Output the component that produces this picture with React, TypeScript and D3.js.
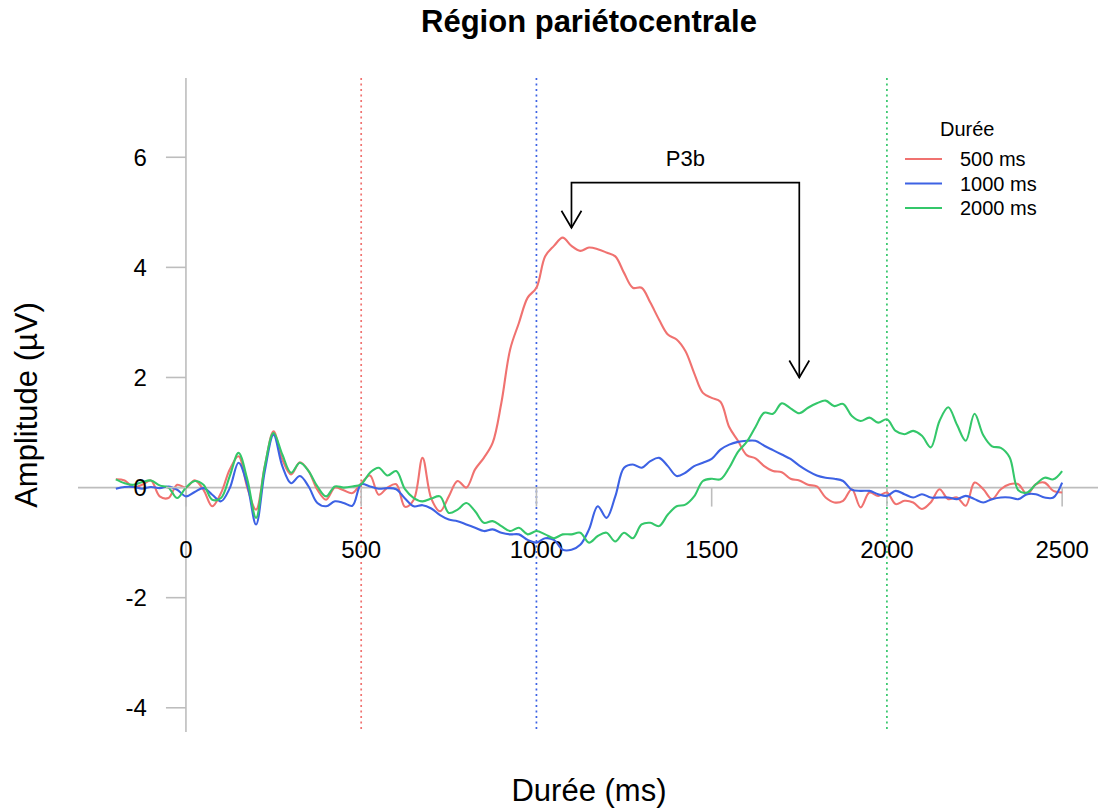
import * as d3 from "d3";

// ERP grand averages, parietocentral region, sampled every 25 ms from -200 to 2500 ms
const times = d3.range(-200, 2501, 25);

const red500 = [
  0.15, 0.13, 0.01, 0.05, 0.13, -0.16, -0.19, 0.05, 0.0, 0.13,
  -0.04, -0.34, -0.1, 0.33, 0.57, 0.0, -0.4, 0.39, 1.02, 0.51,
  0.24, 0.46, 0.3, -0.04, -0.22, 0.0, -0.05, -0.1, 0.08, 0.22,
  -0.13, 0.0, 0.06, -0.35, -0.22, 0.54, -0.2, -0.43, -0.16, 0.12,
  0.0, 0.33, 0.54, 0.81, 1.54, 2.51, 2.99, 3.45, 3.63, 4.2,
  4.39, 4.54, 4.39, 4.3, 4.36, 4.33, 4.27, 4.2, 3.9, 3.63,
  3.63, 3.36, 3.05, 2.78, 2.69, 2.48, 2.08, 1.72, 1.63, 1.56,
  1.1, 0.85, 0.59, 0.53, 0.39, 0.3, 0.28, 0.16, 0.13, 0.05,
  0.02, -0.18, -0.27, -0.24, -0.03, -0.36, -0.09, -0.15, -0.09, -0.3,
  -0.24, -0.27, -0.39, -0.27, -0.03, -0.21, -0.18, -0.33, 0.09, -0.03,
  -0.21, -0.03, 0.06, 0.06, -0.12, 0.06, 0.09, -0.06, -0.09,
];

const blue1000 = [
  -0.02, 0.01, 0.01, -0.02, 0.01, -0.01, 0.02, -0.04, -0.16, -0.08,
  -0.01, -0.13, -0.25, -0.01, 0.45, 0.05, -0.67, 0.3, 0.96, 0.39,
  0.08, 0.21, 0.02, -0.28, -0.34, -0.25, -0.28, -0.33, 0.06, 0.02,
  -0.02, -0.01, -0.03, -0.2, -0.34, -0.32, -0.38, -0.5, -0.58, -0.61,
  -0.67, -0.73, -0.79, -0.76, -0.82, -0.85, -0.85, -0.95, -1.0, -0.92,
  -0.95, -1.13, -1.13, -1.04, -0.76, -0.34, -0.55, -0.16, 0.36, 0.42,
  0.36, 0.48, 0.54, 0.39, 0.21, 0.27, 0.39, 0.45, 0.52, 0.69,
  0.78, 0.83, 0.85, 0.85, 0.76, 0.68, 0.6, 0.52, 0.4, 0.3,
  0.22, 0.18, 0.16, 0.12, -0.04, -0.06, -0.06, -0.12, -0.15, -0.06,
  -0.12, -0.18, -0.12, -0.18, -0.18, -0.18, -0.21, -0.15, -0.21, -0.27,
  -0.21, -0.18, -0.18, -0.21, -0.12, -0.12, -0.18, -0.18, 0.09,
];

const green2000 = [
  0.15, 0.08, 0.05, 0.1, 0.13, 0.04, 0.0, -0.19, 0.0, 0.12,
  0.05, -0.22, -0.19, 0.21, 0.63, 0.15, -0.55, 0.39, 0.99, 0.6,
  0.27, 0.45, 0.3, 0.02, -0.16, 0.02, 0.0, 0.02, 0.06, 0.27,
  0.36, 0.22, 0.3, -0.03, -0.19, -0.25, -0.2, -0.16, -0.46, -0.4,
  -0.28, -0.43, -0.64, -0.61, -0.7, -0.79, -0.73, -0.85, -0.79, -0.85,
  -0.92, -0.85, -0.85, -0.82, -1.0, -0.88, -0.82, -0.98, -0.82, -0.92,
  -0.67, -0.64, -0.7, -0.49, -0.34, -0.31, -0.16, 0.12, 0.16, 0.15,
  0.36, 0.65, 0.83, 1.1, 1.36, 1.34, 1.53, 1.44, 1.35, 1.45,
  1.53, 1.58, 1.48, 1.52, 1.3, 1.21, 1.27, 1.18, 1.24, 1.03,
  0.97, 1.03, 0.94, 0.73, 1.21, 1.46, 1.14, 0.85, 1.34, 0.95,
  0.75, 0.72, 0.55, -0.05, -0.09, 0.06, 0.18, 0.15, 0.3,
];

const seriesNames = ["500 ms", "1000 ms", "2000 ms"];
const seriesColors = ["#f07270", "#3d62e4", "#34c76a"];
const seriesValues = [red500, blue1000, green2000];
const onsets = [500, 1000, 2000];

const xTicks = [0, 500, 1000, 1500, 2000, 2500];
const yTicks = [-4, -2, 0, 2, 4, 6];

// P3b bracket (ms, µV)
const p3bStart = 1100;
const p3bEnd = 1750;
const p3bTop = 5.54;
const p3bTipLeft = 4.72;
const p3bTipRight = 2.0;

const font = "'Liberation Sans', Arial, Helvetica, sans-serif";
const gray = "#bdbdbd";

export default function App() {
  const W = 1098;
  const H = 809;

  const x = d3.scaleLinear().domain([-308, 2608]).range([78, 1100]);
  const y = d3.scaleLinear().domain([-4.44, 7.44]).range([732, 78]);

  const line = d3
    .line<number>()
    .x((_, i) => x(times[i]))
    .y((d) => y(d))
    .curve(d3.curveCatmullRom.alpha(0.5));

  const arrow = (tx: number, ty: number) =>
    `M${tx - 10},${ty - 17}L${tx},${ty}L${tx + 10},${ty - 17}`;

  const x0 = x(0);
  const y0 = y(0);

  return (
    <svg
      width={W}
      height={H}
      style={{ position: "absolute", left: 0, top: 0, background: "#fff" }}
      fontFamily={font}
    >
      <rect width={W} height={H} fill="#fff" />

      {/* reference lines */}
      <line x1={78} x2={1100} y1={y0} y2={y0} stroke={gray} strokeWidth={1.6} />
      <line x1={x0} x2={x0} y1={78} y2={732} stroke={gray} strokeWidth={1.6} />

      {onsets.map((o, i) => (
        <line
          key={o}
          x1={x(o)}
          x2={x(o)}
          y1={78}
          y2={732}
          stroke={seriesColors[i]}
          strokeWidth={1.7}
          strokeDasharray="2,3.5"
        />
      ))}

      {/* x ticks */}
      {xTicks.map((t) => (
        <g key={t}>
          <line x1={x(t)} x2={x(t)} y1={y0} y2={y0 + 19} stroke={gray} strokeWidth={1.6} />
          <text x={x(t)} y={549} textAnchor="middle" dominantBaseline="central" fontSize={24}>
            {t}
          </text>
        </g>
      ))}

      {/* curves */}
      {seriesValues.map((vals, i) => (
        <path
          key={seriesNames[i]}
          d={line(vals) || ""}
          fill="none"
          stroke={seriesColors[i]}
          strokeWidth={2.1}
          strokeLinejoin="round"
        />
      ))}

      {/* y ticks */}
      {yTicks.map((t) => (
        <g key={t}>
          <line x1={x0 - 20} x2={x0} y1={y(t)} y2={y(t)} stroke={gray} strokeWidth={1.6} />
          <text x={x0 - 39} y={y(t)} textAnchor="end" dominantBaseline="central" fontSize={24}>
            {t}
          </text>
        </g>
      ))}

      {/* P3b annotation */}
      <g stroke="#000" strokeWidth={1.7} fill="none">
        <path
          d={`M${x(p3bStart)},${y(p3bTipLeft)}V${y(p3bTop)}H${x(p3bEnd)}V${y(p3bTipRight)}`}
        />
        <path d={arrow(x(p3bStart), y(p3bTipLeft))} />
        <path d={arrow(x(p3bEnd), y(p3bTipRight))} />
      </g>
      <text
        x={x((p3bStart + p3bEnd) / 2)}
        y={158}
        textAnchor="middle"
        dominantBaseline="central"
        fontSize={22}
      >
        P3b
      </text>

      {/* legend */}
      <text x={940} y={129} dominantBaseline="central" fontSize={20}>
        Durée
      </text>
      {seriesNames.map((n, i) => (
        <g key={n} transform={`translate(0,${159 + i * 24.5})`}>
          <line x1={905} x2={942} y1={0} y2={0} stroke={seriesColors[i]} strokeWidth={2} />
          <text x={960} y={0} dominantBaseline="central" fontSize={20}>
            {n}
          </text>
        </g>
      ))}

      {/* titles */}
      <text x={589} y={32} textAnchor="middle" fontSize={31} fontWeight="bold">
        Région pariétocentrale
      </text>
      <text x={589} y={801} textAnchor="middle" fontSize={31}>
        Durée (ms)
      </text>
      <text
        transform={`translate(37,405) rotate(-90)`}
        textAnchor="middle"
        fontSize={31}
      >
        Amplitude (µV)
      </text>
    </svg>
  );
}
